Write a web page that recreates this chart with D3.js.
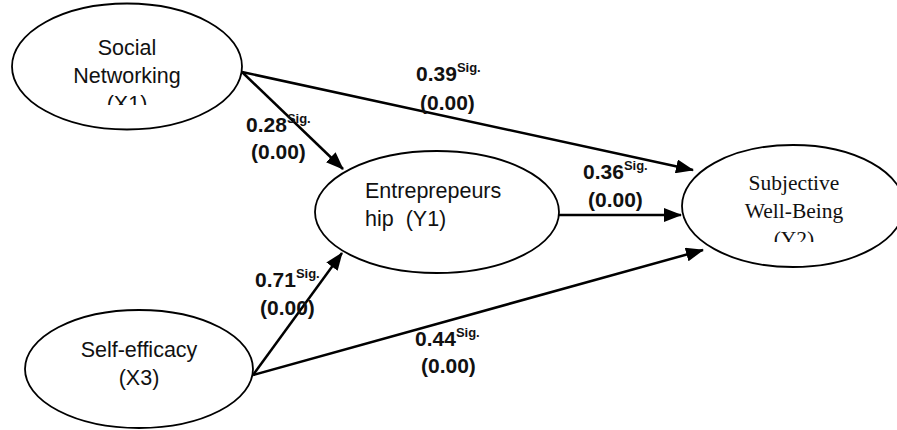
<!DOCTYPE html>
<html>
<head>
<meta charset="utf-8">
<script src="https://cdn.jsdelivr.net/npm/d3@7"></script>
<style>
  html, body { margin: 0; padding: 0; background: #fff; }
  svg { display: block; }
</style>
</head>
<body>
<svg id="chart" width="897" height="430"></svg>
<script>
// Path model: constructs and standardized path coefficients
const nodeIds    = ["X1", "Y1", "Y2", "X3"];
const nodeLines  = [
  ["Social", "Networking", "(X1)"],
  ["Entreprepeurs", "hip  (Y1)"],
  ["Subjective", "Well-Being", "(Y2)"],
  ["Self-efficacy", "(X3)"]
];
const pathFrom   = ["X1", "X1", "Y1", "X3", "X3"];
const pathTo     = ["Y2", "Y1", "Y2", "Y1", "Y2"];
const coefficients = [0.39, 0.28, 0.36, 0.71, 0.44];
const pValues      = [0.00, 0.00, 0.00, 0.00, 0.00];
const sigMark      = "Sig.";

// Layout of the diagram (ellipse geometry, text boxes, arrow anchors, label spots)
const nodeLayout = {
  X1: { cx: 127, cy: 66.5, rx: 115, ry: 63, font: "Liberation Sans, Arial, sans-serif", anchor: "middle", tx: 127, ty: 55, clipBottom: 105 },
  Y1: { cx: 437, cy: 212,  rx: 122, ry: 61, font: "Liberation Sans, Arial, sans-serif", anchor: "start",  tx: 365, ty: 198, clipBottom: 260 },
  Y2: { cx: 793, cy: 206,  rx: 111, ry: 61, font: "Liberation Serif, 'Times New Roman', serif", anchor: "middle", tx: 794, ty: 190, clipBottom: 242 },
  X3: { cx: 139, cy: 369,  rx: 114, ry: 59, font: "Liberation Sans, Arial, sans-serif", anchor: "middle", tx: 139, ty: 357, clipBottom: 420 }
};
const lineHeight = 28;

const arrowLayout = [
  { x1: 242, y1: 72,  x2: 693, y2: 170, lx: 416, ly: 81,  px: 420, py: 110 },
  { x1: 242, y1: 72,  x2: 343, y2: 169, lx: 246, ly: 132, px: 251, py: 159 },
  { x1: 559, y1: 215, x2: 681, y2: 215, lx: 583, ly: 179, px: 588, py: 207 },
  { x1: 253, y1: 375, x2: 342, y2: 253, lx: 255, ly: 287, px: 260, py: 315 },
  { x1: 253, y1: 375, x2: 703, y2: 250, lx: 415, ly: 346, px: 421, py: 373 }
];

const svg = d3.select("#chart");
const fmt = d3.format(".2f");

const defs = svg.append("defs");
defs.append("marker")
  .attr("id", "arrowhead")
  .attr("markerUnits", "userSpaceOnUse")
  .attr("viewBox", "0 0 18 14")
  .attr("refX", 17)
  .attr("refY", 7)
  .attr("markerWidth", 18)
  .attr("markerHeight", 14)
  .attr("orient", "auto")
  .append("path")
  .attr("d", "M0,0 L18,7 L0,14 Z")
  .attr("fill", "#000");

// Paths (drawn first so the ellipses sit over their ends)
const edges = coefficients.map((c, i) => ({
  from: pathFrom[i], to: pathTo[i], coef: c, p: pValues[i], ...arrowLayout[i]
}));

svg.append("g").selectAll("line")
  .data(edges)
  .join("line")
  .attr("x1", d => d.x1).attr("y1", d => d.y1)
  .attr("x2", d => d.x2).attr("y2", d => d.y2)
  .attr("stroke", "#000")
  .attr("stroke-width", 2.5)
  .attr("marker-end", "url(#arrowhead)");

// Constructs
const nodes = nodeIds.map((id, i) => ({ id, lines: nodeLines[i], ...nodeLayout[id] }));

nodes.forEach(n => {
  defs.append("clipPath").attr("id", "clip-" + n.id)
    .append("rect")
    .attr("x", n.cx - n.rx).attr("y", n.cy - n.ry)
    .attr("width", n.rx * 2).attr("height", n.clipBottom - (n.cy - n.ry));
});

const ng = svg.append("g").selectAll("g")
  .data(nodes)
  .join("g");

ng.append("ellipse")
  .attr("cx", d => d.cx).attr("cy", d => d.cy)
  .attr("rx", d => d.rx).attr("ry", d => d.ry)
  .attr("fill", "none")
  .attr("stroke", "#000")
  .attr("stroke-width", 1.8);

ng.append("text")
  .attr("clip-path", d => "url(#clip-" + d.id + ")")
  .attr("font-family", d => d.font)
  .attr("font-size", 21.5)
  .attr("fill", "#111")
  .attr("text-anchor", d => d.anchor)
  .style("white-space", "pre")
  .each(function(d) {
    d3.select(this).selectAll("tspan")
      .data(d.lines)
      .join("tspan")
      .attr("x", d.tx)
      .attr("y", (t, j) => d.ty + j * lineHeight)
      .text(t => t);
  });

// Coefficient labels with significance superscript and p-value
const lg = svg.append("g")
  .attr("font-family", "Liberation Sans, Arial, sans-serif")
  .attr("font-weight", "bold")
  .attr("fill", "#111");

const coefText = lg.selectAll("text.coef")
  .data(edges)
  .join("text")
  .attr("class", "coef")
  .attr("x", d => d.lx)
  .attr("y", d => d.ly)
  .attr("font-size", 21);
coefText.append("tspan").text(d => fmt(d.coef));
coefText.append("tspan")
  .attr("font-size", 13)
  .attr("dy", -9)
  .text(sigMark);

lg.selectAll("text.pval")
  .data(edges)
  .join("text")
  .attr("class", "pval")
  .attr("x", d => d.px)
  .attr("y", d => d.py)
  .attr("font-size", 21)
  .text(d => "(" + fmt(d.p) + ")");
</script>
</body>
</html>
